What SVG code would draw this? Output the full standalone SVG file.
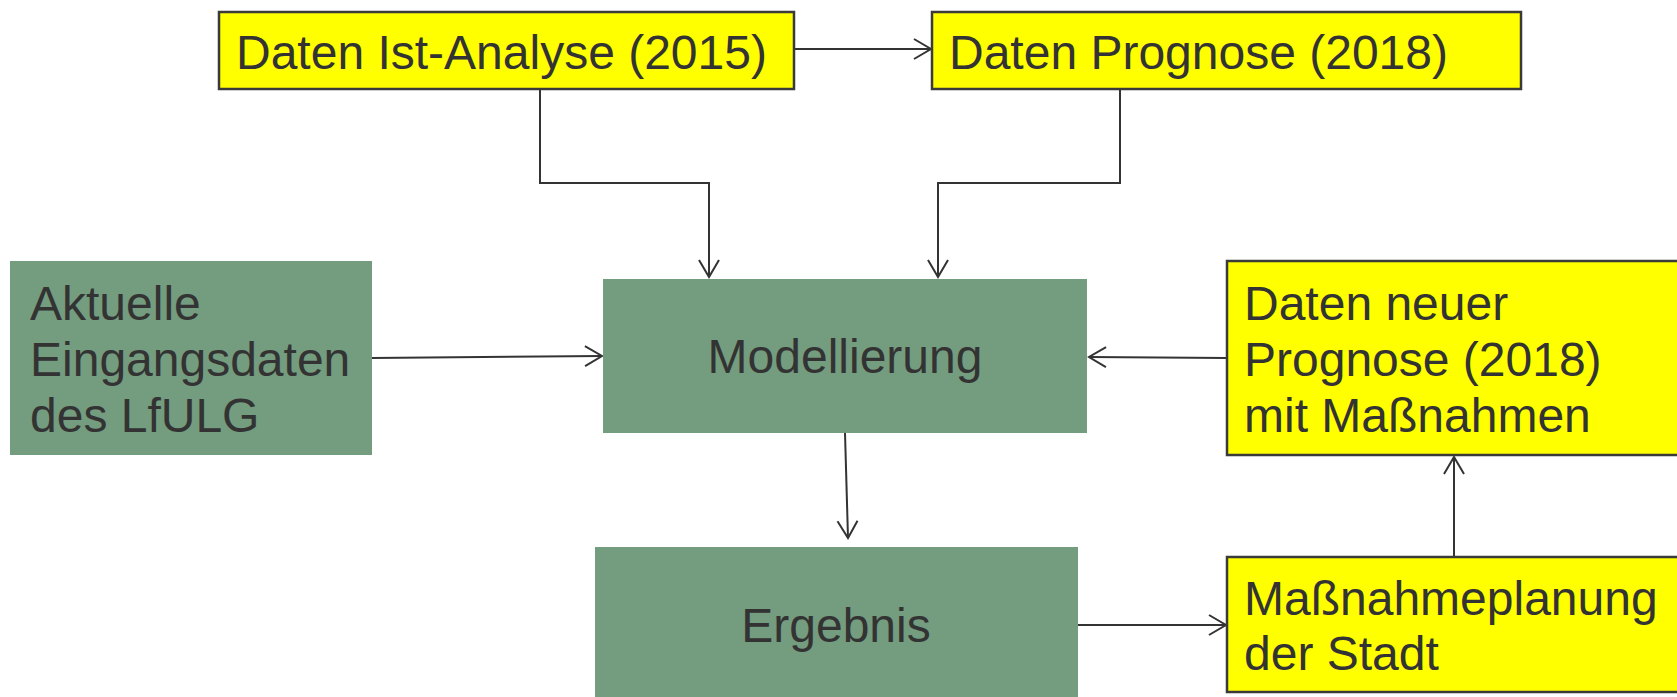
<svg xmlns="http://www.w3.org/2000/svg" width="1677" height="697" viewBox="0 0 1677 697">
<style>
.y{fill:#ffff00;stroke:#3a3a3a;stroke-width:2.5}
.g{fill:#749c7f}
.t{font-family:"Liberation Sans",Arial,sans-serif;font-size:48px;fill:#333333}
.c{fill:none;stroke:#333333;stroke-width:2}
</style>
<defs>
<marker id="ah" markerUnits="userSpaceOnUse" markerWidth="24" markerHeight="24" viewBox="-20 -12 24 24" refX="0" refY="0" orient="auto">
<path d="M-17,-10 L0,0 L-17,10" fill="none" stroke="#333333" stroke-width="2"/>
</marker>
</defs>
<rect width="1677" height="697" fill="#ffffff"/>
<g id="connectors">
<path class="c" d="M794,49 H931" marker-end="url(#ah)"/>
<path class="c" d="M540,90 V183 H709 V277" marker-end="url(#ah)"/>
<path class="c" d="M1120,90 V183 H938 V277" marker-end="url(#ah)"/>
<path class="c" d="M372,358 L602,356" marker-end="url(#ah)"/>
<path class="c" d="M1227,358 L1089,357" marker-end="url(#ah)"/>
<path class="c" d="M845,433 L848,538" marker-end="url(#ah)"/>
<path class="c" d="M1078,625 H1226" marker-end="url(#ah)"/>
<path class="c" d="M1454,557 V457" marker-end="url(#ah)"/>
</g>
<g id="ist">
<rect class="y" x="219" y="12" width="575" height="77"/>
<text class="t" x="236" y="69">Daten Ist-Analyse (2015)</text>
</g>
<g id="prognose">
<rect class="y" x="932" y="12" width="589" height="77"/>
<text class="t" x="949" y="69">Daten Prognose (2018)</text>
</g>
<g id="aktuelle">
<rect class="g" x="10" y="261" width="362" height="194"/>
<text class="t" x="30" y="320">Aktuelle</text>
<text class="t" x="30" y="376">Eingangsdaten</text>
<text class="t" x="30" y="432">des LfULG</text>
</g>
<g id="modellierung">
<rect class="g" x="603" y="279" width="484" height="154"/>
<text class="t" x="845" y="373" text-anchor="middle">Modellierung</text>
</g>
<g id="neuer">
<rect class="y" x="1227" y="261" width="460" height="194"/>
<text class="t" x="1244" y="320">Daten neuer</text>
<text class="t" x="1244" y="376">Prognose (2018)</text>
<text class="t" x="1244" y="432">mit Maßnahmen</text>
</g>
<g id="ergebnis">
<rect class="g" x="595" y="547" width="483" height="160"/>
<text class="t" x="836" y="642" text-anchor="middle">Ergebnis</text>
</g>
<g id="massnahme">
<rect class="y" x="1227" y="557" width="460" height="135"/>
<text class="t" x="1244" y="615">Maßnahmeplanung</text>
<text class="t" x="1244" y="670">der Stadt</text>
</g>
</svg>
